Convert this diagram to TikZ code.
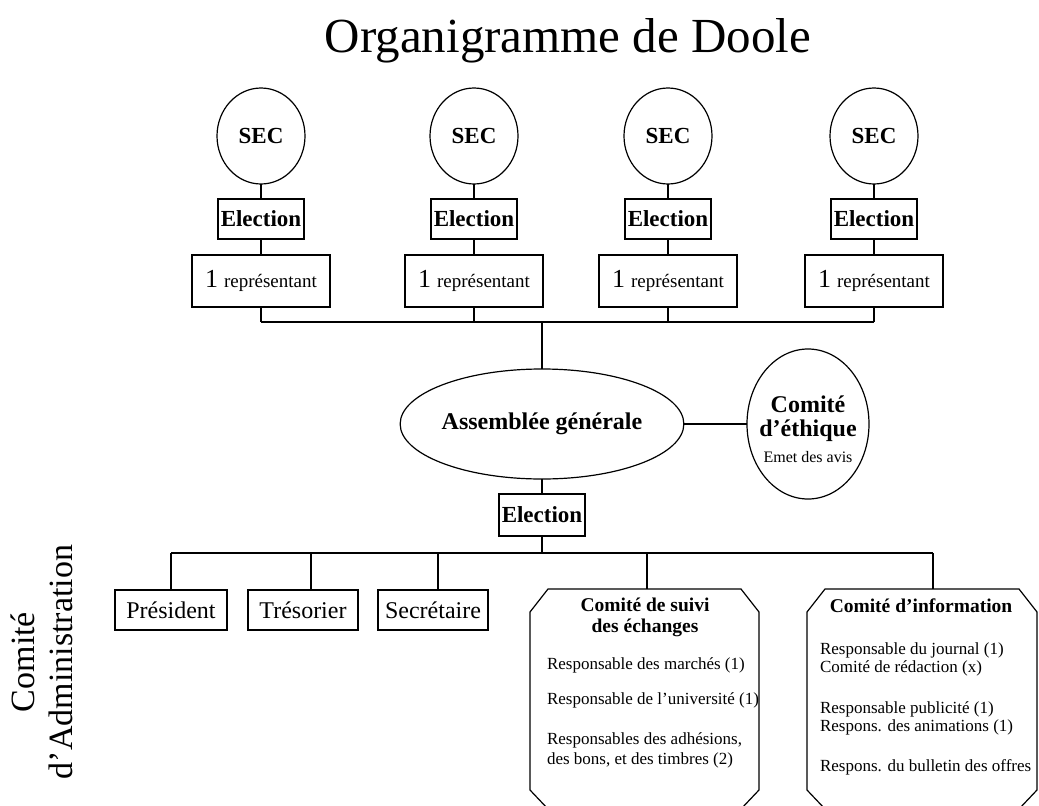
\documentclass[tikz,border=0pt]{standalone}
\usepackage{fontspec}
\setmainfont{Liberation Serif}
\usetikzlibrary{shapes.geometric}
\begin{document}
\begin{tikzpicture}[x=1pt,y=-1pt, line width=1.2pt,
  every node/.style={inner sep=0pt, outer sep=0pt},
  secnode/.style={draw, ellipse, minimum width=88pt, minimum height=96pt, font=\bfseries\fontsize{23}{26}\selectfont},
  elecnode/.style={draw, rectangle, minimum width=86pt, minimum height=40pt, font=\bfseries\fontsize{23}{26}\selectfont},
  repnode/.style={draw, rectangle, minimum width=138pt, minimum height=52pt},
  rolenode/.style={draw, rectangle, minimum height=40pt, font=\fontsize{24}{26}\selectfont},
  itemtext/.style={anchor=west, font=\fontsize{17}{19}\selectfont},
  headtext/.style={font=\bfseries\fontsize{19.5}{21}\selectfont, align=center},
  octbox/.style={rectangle, minimum width=229pt, minimum height=220pt},
]
\clip (0,0) rectangle (1039,806);

% title
\node[font=\fontsize{49}{56}\selectfont, anchor=base] (title) at (568,52) {Organigramme de Doole};

% top columns
\foreach \i/\x in {1/261, 2/474, 3/668, 4/874}{
  \node[secnode] (sec\i) at (\x,136) {SEC};
  \node[elecnode] (el\i) at (\x,219) {Election};
  \node[repnode] (rep\i) at (\x,281) {{\fontsize{26}{28}\selectfont 1}\hspace{6pt}{\fontsize{19}{20}\selectfont représentant}};
  \coordinate (t\i) at (\x,322);
  \draw (sec\i) -- (el\i);
  \draw (el\i) -- (rep\i);
  \draw (rep\i) -- (t\i);
}
\draw (t1) -- (t4);
\coordinate (tc) at (542,322);

% assemblee
\node[draw, ellipse, minimum width=250pt, minimum height=110pt, font=\bfseries\fontsize{24}{26}\selectfont] (ag) at (542,424) {Assemblée générale};
\draw (tc) -- (ag);

% ethique
\node[draw, ellipse, minimum width=122pt, minimum height=150pt] (eth) at (808,424) {};
\node[font=\bfseries\fontsize{24}{26}\selectfont] (eth1) at (808,404) {Comité};
\node[font=\bfseries\fontsize{24}{26}\selectfont] (eth2) at (808,431) {d’éthique};
\node[font=\fontsize{16}{18}\selectfont] (eth3) at (808,457) {Emet des avis};
\draw (ag) -- (eth);

% election 2
\node[elecnode, minimum height=42pt] (el5) at (542,515) {Election};
\draw (ag) -- (el5);
\coordinate (bc) at (542,553);
\draw (el5) -- (bc);

% bottom bus
\coordinate (d1) at (171,553);
\coordinate (d2) at (311,553);
\coordinate (d3) at (438,553);
\coordinate (d4) at (647,553);
\coordinate (d5) at (933,553);
\draw (d1) -- (d5);

\node[rolenode, minimum width=112pt] (pres) at (171,610) {Président};
\node[rolenode, minimum width=110pt] (tres) at (303,610) {Trésorier};
\node[rolenode, minimum width=110pt] (secr) at (433,610) {Secrétaire};
\draw (d1) -- (d1 |- pres.north);
\draw (d2) -- (d2 |- tres.north);
\draw (d3) -- (d3 |- secr.north);

% octagons
\node[octbox] (oct1) at (644.5,699) {};
\node[octbox, minimum width=230pt] (oct2) at (922,699) {};
\foreach \o in {oct1, oct2}{
  \draw ([xshift=18pt]\o.north west) -- ([xshift=-18pt]\o.north east) -- ([yshift=-23pt]\o.north east)
     -- ([yshift=19pt]\o.south east) -- ([xshift=-18pt]\o.south east) -- ([xshift=18pt]\o.south west)
     -- ([yshift=19pt]\o.south west) -- ([yshift=-23pt]\o.north west) -- cycle;
}
\draw (d4) -- (d4 |- oct1.north);
\draw (d5) -- (d5 |- oct2.north);

\node[headtext] (h1) at (645,617) {Comité de suivi\\des échanges};
\node[itemtext] (i11) at (547,665) {Responsable des marchés (1)};
\node[itemtext] (i12) at (547,700) {Responsable de l’université (1)};
\node[itemtext] (i13) at (547,740) {Responsables des adhésions,};
\node[itemtext] (i14) at (547,760) {des bons, et des timbres (2)};

\node[headtext] (h2) at (921,606) {Comité d’information};
\node[itemtext] (i21) at (820,650) {Responsable du journal (1)};
\node[itemtext] (i22) at (820,668) {Comité de rédaction (x)};
\node[itemtext] (i23) at (820,709) {Responsable publicité (1)};
\node[itemtext] (i24) at (820,727) {Respons. des animations (1)};
\node[itemtext] (i25) at (820,767) {Respons. du bulletin des offres};

% left label
\node[rotate=90, align=center, font=\fontsize{34}{38}\selectfont] (ca) at (42,662) {Comité\\d’Administration};
\end{tikzpicture}
\end{document}
